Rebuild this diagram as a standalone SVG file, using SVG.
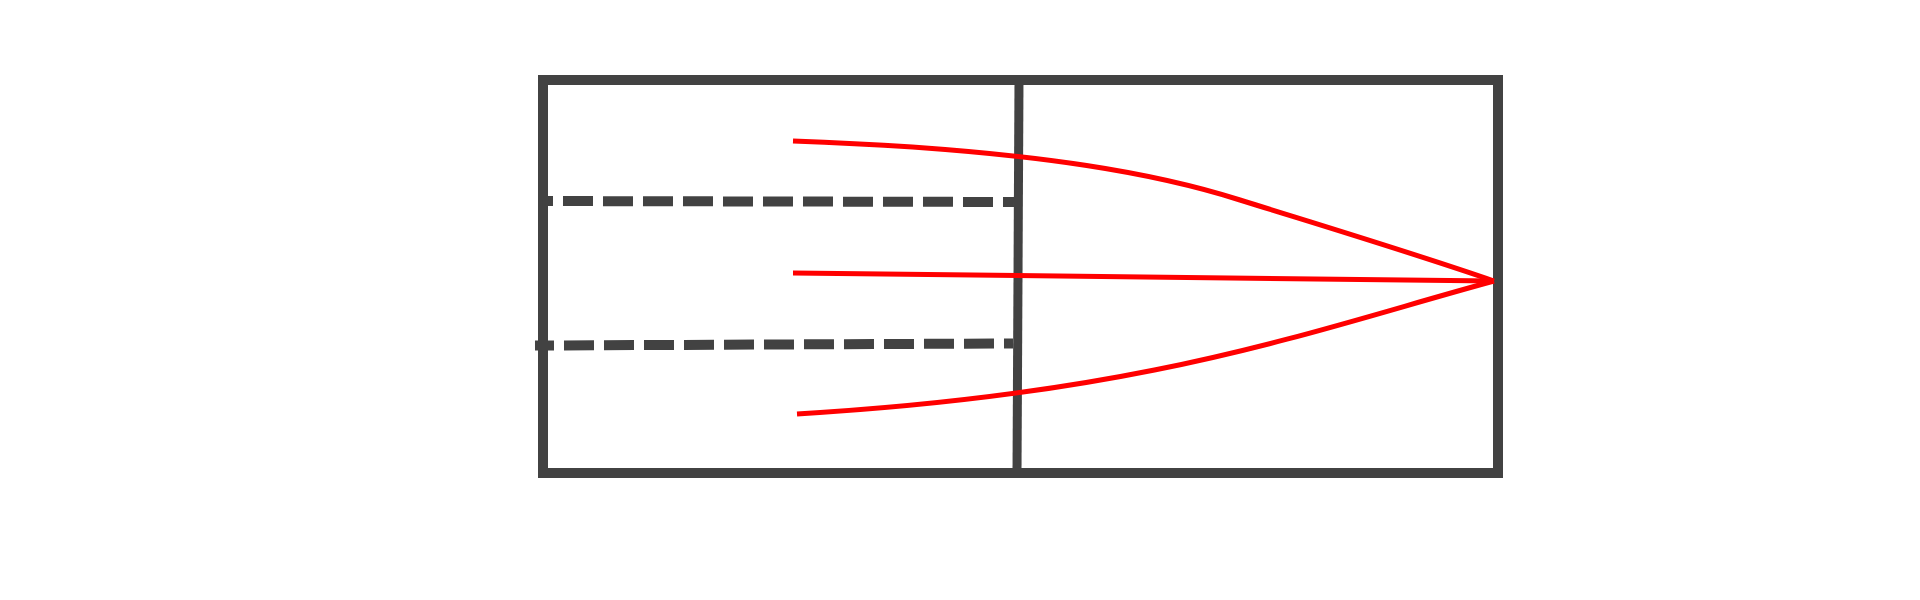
<svg xmlns="http://www.w3.org/2000/svg" width="1920" height="600" viewBox="0 0 1920 600">
  <style>
    .frame { fill: none; stroke: #424242; stroke-width: 10; }
    .divider { fill: none; stroke: #424242; stroke-width: 9; }
    .dash { fill: none; stroke: #424242; stroke-width: 10; stroke-dasharray: 30 10; }
    .ray { fill: none; stroke: #ff0000; stroke-width: 5; stroke-linejoin: round; }
  </style>
  <rect x="0" y="0" width="1920" height="600" fill="#ffffff"/>
  <g id="box">
    <rect class="frame" x="543" y="80" width="955" height="393"/>
  </g>
  <g id="divider">
    <line class="divider" x1="1019" y1="80" x2="1017" y2="473"/>
  </g>
  <g id="dashed-lines">
    <line class="dash" x1="543" y1="201" x2="1014" y2="202" stroke-dashoffset="20"/>
    <line class="dash" x1="535" y1="345.5" x2="1013" y2="343.5" stroke-dashoffset="11"/>
  </g>
  <g id="connectors">
    <path class="ray" d="M793,141 C1050,150 1170,177.7 1240,200 C1320,225 1410,252 1494,281"/>
    <path class="ray" d="M793,273 L1494,281"/>
    <path class="ray" d="M797,414 C1150,393 1310,331 1494,281"/>
  </g>
</svg>
